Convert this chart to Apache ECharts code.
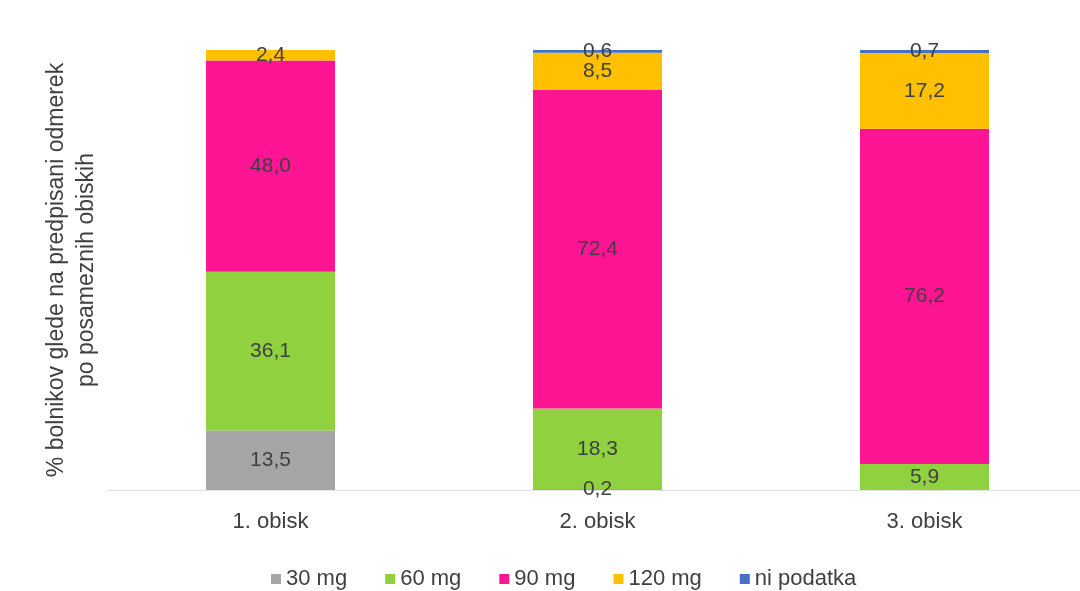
<!DOCTYPE html>
<html><head><meta charset="utf-8">
<script src="https://cdn.jsdelivr.net/npm/echarts@6/dist/echarts.min.js"></script>
<style>html,body{margin:0;padding:0;background:#fff}#c{width:1080px;height:591px}</style>
</head><body><div id="c"></div>
<script>
var categories = ['1. obisk', '2. obisk', '3. obisk'];
var seriesNames = ['30 mg', '60 mg', '90 mg', '120 mg', 'ni podatka'];
var v30 = [13.5, 0.2, 0];
var v60 = [36.1, 18.3, 5.9];
var v90 = [48.0, 72.4, 76.2];
var v120 = [2.4, 8.5, 17.2];
var vNi = [0, 0.6, 0.7];
var colors = ['#a5a5a5', '#8fd13f', '#ff1493', '#ffc000', '#4472c4'];
var values = [v30, v60, v90, v120, vNi];
var FONT = "'Liberation Sans', Arial, sans-serif";

var chart = echarts.init(document.getElementById('c'), null, {renderer: 'canvas'});
var series = seriesNames.map(function (n, i) {
  return {
    name: n, type: 'bar', stack: 'a', barWidth: 129,
    data: values[i],
    itemStyle: {color: colors[i]},
    label: {
      show: true, position: 'inside', color: '#404040', fontSize: 21, fontFamily: FONT,
      formatter: function (p) { return p.value > 0 ? p.value.toFixed(1).replace('.', ',') : ''; }
    }
  };
});
chart.setOption({
  animation: false,
  textStyle: {fontFamily: FONT},
  grid: {left: 107, width: 981, top: 50, height: 440, containLabel: false, outerBoundsMode: 'none'},
  xAxis: {
    type: 'category', data: categories,
    axisLine: {show: true, lineStyle: {color: '#e3e3e3', width: 1}},
    axisTick: {show: false},
    axisLabel: {color: '#404040', fontSize: 22, margin: 21, fontFamily: FONT}
  },
  yAxis: {
    type: 'value', min: 0, max: 100,
    axisLine: {show: false}, axisTick: {show: false}, splitLine: {show: false},
    axisLabel: {show: false},
    name: '% bolnikov glede na predpisani odmerek\npo posameznih obiskih',
    nameLocation: 'middle', nameGap: 5, nameRotate: 90,
    nameTextStyle: {color: '#404040', fontSize: 23, lineHeight: 30, fontFamily: FONT}
  },
  legend: {
    top: 563, left: 266, itemWidth: 10, itemHeight: 10, itemGap: 38,
    icon: 'rect',
    textStyle: {color: '#404040', fontSize: 22, fontFamily: FONT},
    data: seriesNames
  },
  series: series
});
</script></body></html>
